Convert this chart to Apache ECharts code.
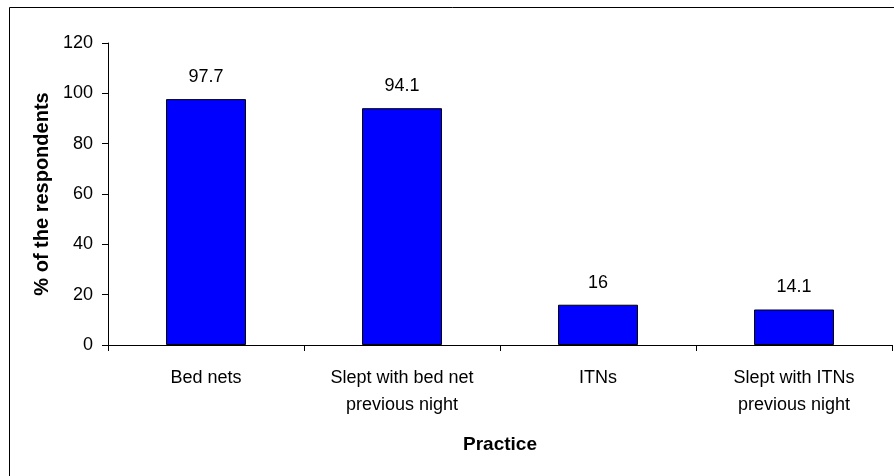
<!DOCTYPE html>
<html>
<head>
<meta charset="utf-8">
<script src="https://cdn.jsdelivr.net/npm/echarts@6/dist/echarts.min.js"></script>
<style>
  html, body { margin: 0; padding: 0; background: #fff; }
  #chart { width: 894px; height: 476px; }
</style>
</head>
<body>
<div id="chart"></div>
<script>
// Bed net practices among respondents
const categories = [
  'Bed nets',
  'Slept with bed net\nprevious night',
  'ITNs',
  'Slept with ITNs\nprevious night'
];
const percentages = [97.7, 94.1, 16, 14.1];
const yTicks = [0, 20, 40, 60, 80, 100, 120];

const FONT = 'Arial, "Liberation Sans", sans-serif';

const chart = echarts.init(document.getElementById('chart'), null, { renderer: 'canvas' });

chart.setOption({
  backgroundColor: '#ffffff',
  animation: false,
  graphic: [{
    // chart-area frame (runs off the right and bottom edges)
    type: 'rect',
    shape: { x: 9.5, y: 7.5, width: 1000, height: 1000 },
    style: { fill: 'none', stroke: '#000', lineWidth: 1 },
    silent: true,
    z: 0
  }],
  grid: { left: 108, right: 2, top: 43, bottom: 131, containLabel: false },
  xAxis: {
    type: 'category',
    data: categories,
    name: 'Practice',
    nameLocation: 'middle',
    nameGap: 90,
    nameTextStyle: { fontFamily: FONT, fontSize: 19, fontWeight: 'bold', color: '#000' },
    axisLine: { lineStyle: { color: '#000', width: 1 } },
    axisTick: { show: true, alignWithLabel: false, length: 6, lineStyle: { color: '#000' } },
    axisLabel: {
      interval: 0,
      margin: 20,
      fontFamily: FONT,
      fontSize: 18,
      lineHeight: 27,
      color: '#000'
    },
    splitLine: { show: false }
  },
  yAxis: {
    type: 'value',
    min: yTicks[0],
    max: yTicks[yTicks.length - 1],
    interval: yTicks[1] - yTicks[0],
    name: '% of the respondents',
    nameLocation: 'middle',
    nameRotate: 90,
    nameGap: 56,
    nameTextStyle: { fontFamily: FONT, fontSize: 20, fontWeight: 'bold', color: '#000' },
    axisLine: { show: true, lineStyle: { color: '#000', width: 1 } },
    axisTick: { show: true, length: 6, lineStyle: { color: '#000' } },
    axisLabel: { margin: 15, fontFamily: FONT, fontSize: 18, color: '#000' },
    splitLine: { show: false }
  },
  series: [{
    type: 'bar',
    data: percentages,
    barWidth: 80,
    itemStyle: { color: '#0000ff', borderColor: '#000', borderWidth: 1 },
    label: {
      show: true,
      position: 'top',
      distance: 13,
      fontFamily: FONT,
      fontSize: 18,
      color: '#000'
    }
  }]
});
</script>
</body>
</html>
